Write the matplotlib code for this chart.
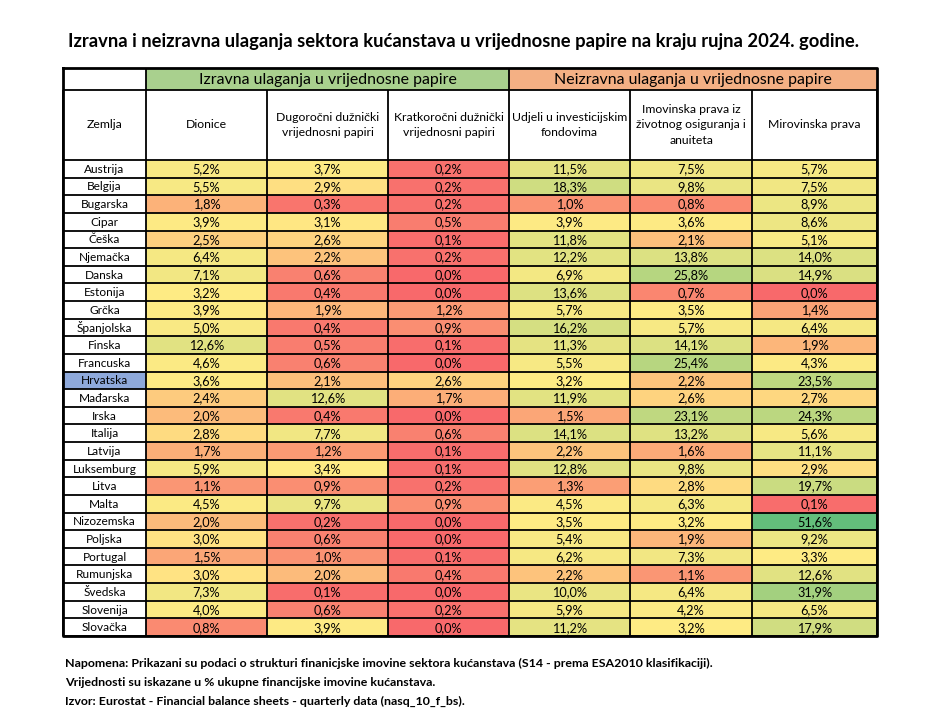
import numpy as np
import matplotlib.pyplot as plt
from matplotlib.colors import LinearSegmentedColormap, TwoSlopeNorm

plt.rcParams['font.family'] = ['Lato', 'DejaVu Sans']

naslov = "Izravna i neizravna ulaganja sektora kućanstava u vrijednosne papire na kraju rujna 2024. godine."

skupine = ["Izravna ulaganja u vrijednosne papire", "Neizravna ulaganja u vrijednosne papire"]
stupci = ["Zemlja", "Dionice", "Dugoročni dužnički\nvrijednosni papiri",
          "Kratkoročni dužnički\nvrijednosni papiri", "Udjeli u investicijskim\nfondovima",
          "Imovinska prava iz\nživotnog osiguranja i\nanuiteta", "Mirovinska prava"]

zemlje = ["Austrija", "Belgija", "Bugarska", "Cipar", "Češka", "Njemačka", "Danska",
          "Estonija", "Grčka", "Španjolska", "Finska", "Francuska", "Hrvatska", "Mađarska",
          "Irska", "Italija", "Latvija", "Luksemburg", "Litva", "Malta", "Nizozemska",
          "Poljska", "Portugal", "Rumunjska", "Švedska", "Slovenija", "Slovačka"]

dionice = [5.2, 5.5, 1.8, 3.9, 2.5, 6.4, 7.1, 3.2, 3.9, 5.0, 12.6, 4.6, 3.6, 2.4,
           2.0, 2.8, 1.7, 5.9, 1.1, 4.5, 2.0, 3.0, 1.5, 3.0, 7.3, 4.0, 0.8]
dugorocni = [3.7, 2.9, 0.3, 3.1, 2.6, 2.2, 0.6, 0.4, 1.9, 0.4, 0.5, 0.6, 2.1, 12.6,
             0.4, 7.7, 1.2, 3.4, 0.9, 9.7, 0.2, 0.6, 1.0, 2.0, 0.1, 0.6, 3.9]
kratkorocni = [0.2, 0.2, 0.2, 0.5, 0.1, 0.2, 0.0, 0.0, 1.2, 0.9, 0.1, 0.0, 2.6, 1.7,
               0.0, 0.6, 0.1, 0.1, 0.2, 0.9, 0.0, 0.0, 0.1, 0.4, 0.0, 0.2, 0.0]
udjeli = [11.5, 18.3, 1.0, 3.9, 11.8, 12.2, 6.9, 13.6, 5.7, 16.2, 11.3, 5.5, 3.2, 11.9,
          1.5, 14.1, 2.2, 12.8, 1.3, 4.5, 3.5, 5.4, 6.2, 2.2, 10.0, 5.9, 11.2]
osiguranje = [7.5, 9.8, 0.8, 3.6, 2.1, 13.8, 25.8, 0.7, 3.5, 5.7, 14.1, 25.4, 2.2, 2.6,
              23.1, 13.2, 1.6, 9.8, 2.8, 6.3, 3.2, 1.9, 7.3, 1.1, 6.4, 4.2, 3.2]
mirovinska = [5.7, 7.5, 8.9, 8.6, 5.1, 14.0, 14.9, 0.0, 1.4, 6.4, 1.9, 4.3, 23.5, 2.7,
              24.3, 5.6, 11.1, 2.9, 19.7, 0.1, 51.6, 9.2, 3.3, 12.6, 31.9, 6.5, 17.9]

napomene = [
    "Napomena: Prikazani su podaci o strukturi finanicjske imovine sektora kućanstava (S14 - prema ESA2010 klasifikaciji).",
    "Vrijednosti su iskazane u % ukupne financijske imovine kućanstava.",
    "Izvor: Eurostat - Financial balance sheets - quarterly data (nasq_10_f_bs).",
]

vrijednosti = np.array([dionice, dugorocni, kratkorocni, udjeli, osiguranje, mirovinska]).T

# Excel-style 3-color scale (min red, median yellow, max green)
cmap = LinearSegmentedColormap.from_list("excel", ["#F8696B", "#FFEB84", "#63BE7B"])
norm = TwoSlopeNorm(vmin=vrijednosti.min(), vcenter=np.percentile(vrijednosti, 50),
                    vmax=vrijednosti.max())

fig = plt.figure(figsize=(9.4, 7.19), dpi=100)
ax = fig.add_axes([0, 0, 1, 1])
ax.set_xlim(0, 940)
ax.set_ylim(719, 0)
ax.axis("off")

x_rub = np.array([63, 146, 267, 388, 509, 630, 752, 877])
y_h1, y_h2, y_pod = 68, 90, 160
red_h = (636 - y_pod) / len(zemlje)
y_rub = y_pod + red_h * np.arange(len(zemlje) + 1)

# heatmap cells
ax.pcolormesh(x_rub[1:], y_rub, vrijednosti, cmap=cmap, norm=norm)

# group headers
ax.fill_between([x_rub[1], x_rub[4]], y_h1, y_h2, color="#A9D08E", lw=0)
ax.fill_between([x_rub[4], x_rub[7]], y_h1, y_h2, color="#F4B084", lw=0)
ax.text((x_rub[1] + x_rub[4]) / 2, (y_h1 + y_h2) / 2 + 1, skupine[0], ha="center", va="center", fontsize=11.4)
ax.text((x_rub[4] + x_rub[7]) / 2, (y_h1 + y_h2) / 2 + 1, skupine[1], ha="center", va="center", fontsize=11.4)

# Hrvatska highlight
i_hr = zemlje.index("Hrvatska")
ax.fill_between([x_rub[0], x_rub[1]], y_rub[i_hr], y_rub[i_hr + 1], color="#8EA9DB", lw=0)

# column headers
for j, naziv in enumerate(stupci):
    ax.text((x_rub[j] + x_rub[j + 1]) / 2, (y_h2 + y_pod) / 2, naziv, ha="center", va="center",
            fontsize=8.8, linespacing=1.55)

# cell texts
for i, z in enumerate(zemlje):
    yc = (y_rub[i] + y_rub[i + 1]) / 2 + 0.5
    ax.text((x_rub[0] + x_rub[1]) / 2, yc, z, ha="center", va="center", fontsize=8.6)
    for j in range(vrijednosti.shape[1]):
        txt = f"{vrijednosti[i, j]:.1f}%".replace(".", ",")
        ax.text((x_rub[j + 1] + x_rub[j + 2]) / 2, yc, txt, ha="center", va="center", fontsize=9.2)

# grid lines
ax.hlines(np.concatenate([[y_h2], y_rub]), x_rub[0], x_rub[-1], color="black", lw=1.3)
ax.vlines(x_rub, y_h2, y_rub[-1], color="black", lw=1.3)
ax.vlines([x_rub[1], x_rub[4]], y_h1, y_h2, color="black", lw=1.3)
ax.plot([x_rub[0], x_rub[-1], x_rub[-1], x_rub[0], x_rub[0]],
        [y_h1, y_h1, y_rub[-1], y_rub[-1], y_h1], color="black", lw=2)

ax.text(463, 42, naslov, ha="center", va="center", fontsize=13.2, fontweight="bold")

for k, n in enumerate(napomene):
    ax.text(65, 663 + k * 19, n, ha="left", va="center", fontsize=8.9, fontweight="bold")

fig.savefig("out.png", dpi=100)
